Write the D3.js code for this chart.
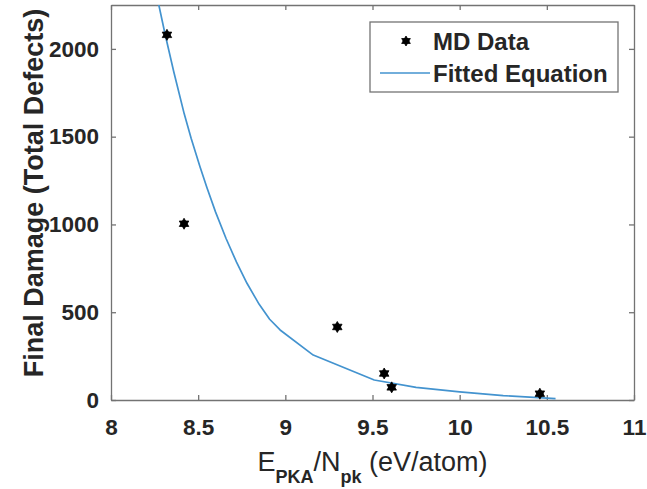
<!DOCTYPE html>
<html>
<head>
<meta charset="utf-8">
<script src="https://cdn.jsdelivr.net/npm/d3@7"></script>
<style>
  body { margin: 0; background: #fff; }
  text { font-family: Arial, "Liberation Sans", sans-serif; fill: #262626; }
</style>
</head>
<body>
<svg id="svg"></svg>
<script>
var width = 647, height = 489;

// MD data points
var mdX = [8.321, 8.419, 9.298, 9.567, 9.61, 10.46];
var mdY = [2080, 1004, 416, 151, 72, 36];

// fitted equation, as plotted (polyline)
var fitX = [8.27, 8.31, 8.36, 8.42, 8.46, 8.51, 8.55, 8.60, 8.66, 8.72, 8.78, 8.85, 8.91, 8.97, 9.16, 9.51, 9.75, 10.0, 10.25, 10.55];
var fitY = [2270, 2085, 1870, 1630, 1490, 1330, 1210, 1070, 920, 785, 665, 545, 460, 399, 256, 114, 72, 46, 25, 8];

var xTicks = [8, 8.5, 9, 9.5, 10, 10.5, 11];
var yTicks = [0, 500, 1000, 1500, 2000];

var svg = d3.select("#svg")
	.attr("width", width)
	.attr("height", height);

var plotL = 111, plotR = 634, plotT = 5, plotB = 400;

var x = d3.scaleLinear().domain([8, 11]).range([plotL, plotR]);
var y = d3.scaleLinear().domain([0, 2250]).range([plotB, plotT]);

svg.append("clipPath").attr("id", "clip")
	.append("rect")
	.attr("x", plotL).attr("y", plotT)
	.attr("width", plotR - plotL).attr("height", plotB - plotT);

// axes with inward ticks (box style)
var axisColor = "#737373";
function styleAxis(g) {
	g.attr("font-family", null).attr("font-size", null);
	g.select(".domain").attr("stroke", axisColor).attr("stroke-width", 1.3);
	g.selectAll(".tick line").attr("stroke", axisColor).attr("stroke-width", 1.3);
	g.selectAll(".tick text")
		.style("font-size", "22.5px")
		.style("font-weight", "bold")
		.attr("fill", "#262626");
}

svg.append("g")
	.attr("transform", "translate(0," + plotB + ")")
	.call(d3.axisBottom(x).tickValues(xTicks).tickFormat(d3.format("")).tickSizeInner(-5).tickSizeOuter(0).tickPadding(19))
	.call(styleAxis);

svg.append("g")
	.attr("transform", "translate(0," + plotT + ")")
	.call(d3.axisTop(x).tickValues(xTicks).tickFormat("").tickSizeInner(-5).tickSizeOuter(0))
	.call(styleAxis);

svg.append("g")
	.attr("transform", "translate(" + plotL + ",0)")
	.call(d3.axisLeft(y).tickValues(yTicks).tickFormat(d3.format("d")).tickSizeInner(-5).tickSizeOuter(0).tickPadding(12))
	.call(styleAxis);

svg.append("g")
	.attr("transform", "translate(" + plotR + ",0)")
	.call(d3.axisRight(y).tickValues(yTicks).tickFormat("").tickSizeInner(-5).tickSizeOuter(0))
	.call(styleAxis);

// fitted line
var fitData = fitX.map(function(d, i) { return [d, fitY[i]]; });
svg.append("path")
	.datum(fitData)
	.attr("clip-path", "url(#clip)")
	.attr("fill", "none")
	.attr("stroke", "#4393cf")
	.attr("stroke-width", 1.7)
	.attr("stroke-linejoin", "round")
	.attr("d", d3.line()
		.x(function(d) { return x(d[0]); })
		.y(function(d) { return y(d[1]); }));

// six-pointed star marker
function hexagram(r) {
	var p = d3.path();
	[0, 1].forEach(function(k) {
		for (var i = 0; i < 3; i++) {
			var a = -Math.PI / 2 + k * Math.PI + i * 2 * Math.PI / 3;
			if (i === 0) p.moveTo(r * Math.cos(a), r * Math.sin(a));
			else p.lineTo(r * Math.cos(a), r * Math.sin(a));
		}
		p.closePath();
	});
	return p.toString();
}

svg.selectAll(".dot")
	.data(mdX.map(function(d, i) { return [d, mdY[i]]; }))
	.enter()
	.append("path")
	.attr("class", "dot")
	.attr("transform", function(d) { return "translate(" + x(d[0]) + "," + y(d[1]) + ")"; })
	.attr("d", hexagram(5.5))
	.attr("fill", "#000")
	.attr("stroke", "#000")
	.attr("stroke-width", 0.8);

// legend
var lg = svg.append("g");
lg.append("rect")
	.attr("x", 370).attr("y", 22)
	.attr("width", 248).attr("height", 70)
	.attr("fill", "#fff")
	.attr("stroke", axisColor)
	.attr("stroke-width", 1.3);
lg.append("path")
	.attr("transform", "translate(406,41)")
	.attr("d", hexagram(5))
	.attr("fill", "#000").attr("stroke", "#000").attr("stroke-width", 0.8);
lg.append("line")
	.attr("x1", 380).attr("x2", 430)
	.attr("y1", 73).attr("y2", 73)
	.attr("stroke", "#4393cf").attr("stroke-width", 1.7);
lg.append("text")
	.attr("x", 433).attr("y", 50)
	.style("font-size", "24px").style("font-weight", "bold")
	.text("MD Data");
lg.append("text")
	.attr("x", 433).attr("y", 82)
	.style("font-size", "24px").style("font-weight", "bold")
	.text("Fitted Equation");

// axis labels
var xl = svg.append("text")
	.attr("x", (plotL + plotR) / 2)
	.attr("y", 471)
	.attr("text-anchor", "middle")
	.style("font-size", "27px");
xl.append("tspan").text("E");
xl.append("tspan").attr("dy", 12).style("font-size", "18px").style("font-weight", "bold").text("PKA");
xl.append("tspan").attr("dy", -12).text("/N");
xl.append("tspan").attr("dy", 12).style("font-size", "18px").style("font-weight", "bold").text("pk");
xl.append("tspan").attr("dy", -12).text(" (eV/atom)");

svg.append("text")
	.attr("transform", "translate(43,193) rotate(-90)")
	.attr("text-anchor", "middle")
	.style("font-size", "27px")
	.style("font-weight", "bold")
	.text("Final Damage (Total Defects)");
</script>
</body>
</html>
